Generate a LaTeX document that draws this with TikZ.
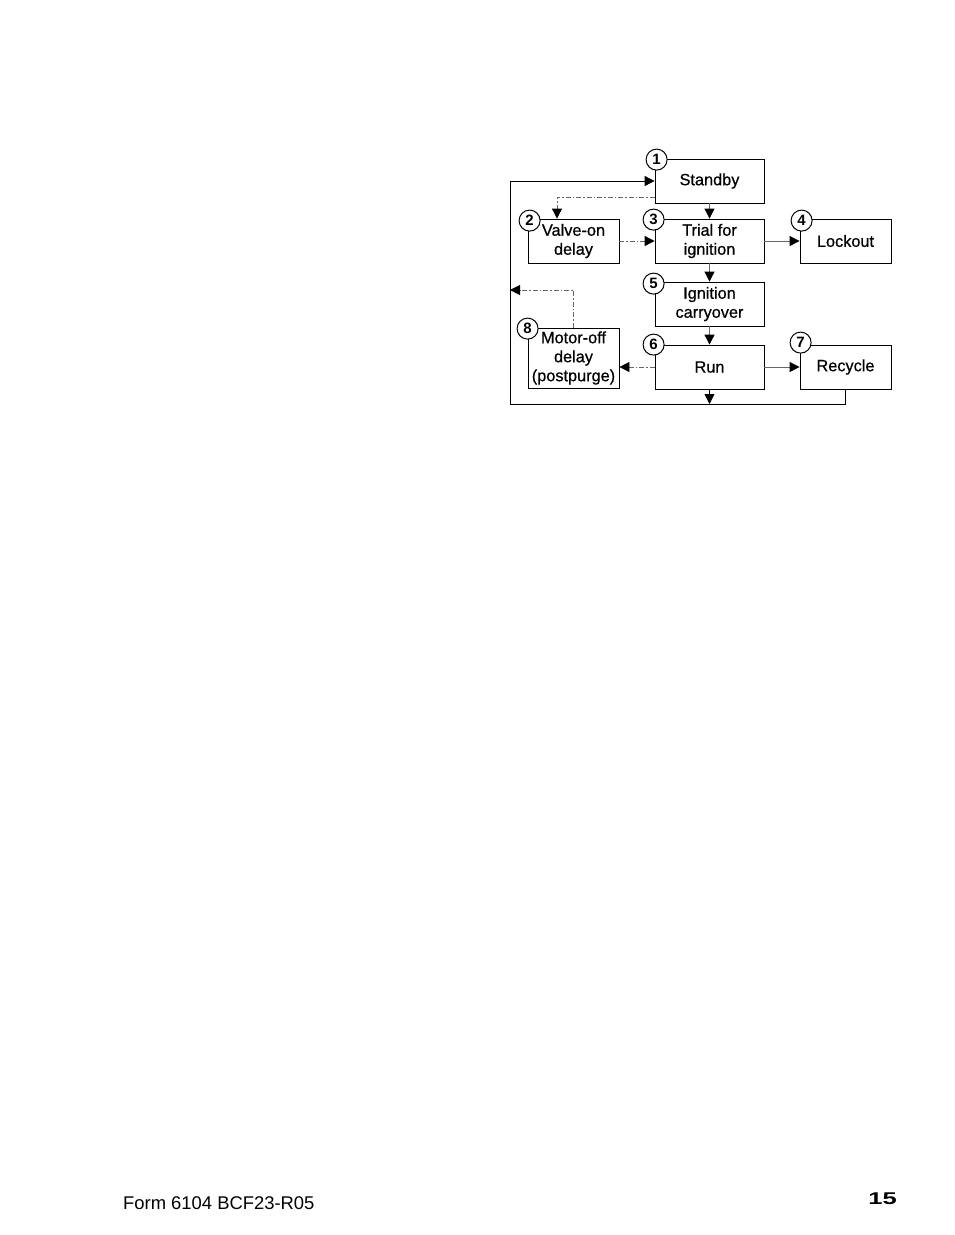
\documentclass[tikz,border=0pt]{standalone}
\usepackage{fontspec}
\setmainfont{Liberation Sans}
\newfontfamily\heavyfont{Liberation Sans}[FakeBold=0.6]
\usepackage{tikz}
\usetikzlibrary{arrows.meta,positioning,calc}
\tikzstyle{RECTANGLE_1} = [rectangle, draw, line width=0.8pt, align=center, inner sep=1pt, minimum width=109pt, minimum height=44pt, font=\heavyfont\fontsize{16.3}{19}\selectfont]
\tikzstyle{RECTANGLE_2} = [RECTANGLE_1, minimum width=91pt]
\tikzstyle{RECTANGLE_3} = [RECTANGLE_2, minimum height=60pt]
\tikzstyle{NUMBER} = [circle, draw, line width=1pt, fill=white, inner sep=0pt, minimum size=21pt, font=\fontsize{15}{15}\selectfont\bfseries]
\tikzstyle{ARROW} = [draw=black!60, line width=0.8pt, -{Triangle[length=10pt,width=10pt,color=black]}]
\tikzstyle{DASHARROW} = [ARROW, dash pattern=on 5pt off 2pt on 1.5pt off 2pt]
\tikzstyle{LOOP} = [draw, line width=0.8pt, -{Triangle[length=10pt,width=10pt]}]

\begin{document}
\begin{tikzpicture}[x=1pt, y=-1pt, node distance=60pt]
\useasboundingbox (0,0) rectangle (954,1235);
% Place nodes
\node [RECTANGLE_1] (standby) at (709.5,181) {Standby};
\node [RECTANGLE_1, below of=standby] (trial) {Trial for\\ignition};
\node [RECTANGLE_2, right of=trial, node distance=136pt] (lockout) {Lockout};
\node [RECTANGLE_2, left of=trial, node distance=136pt] (valve_on) {Valve-on\\delay};
\node [RECTANGLE_1, below of=trial, node distance=63pt] (ign_carry) {Ignition\\carryover};
\node [RECTANGLE_1, below of=ign_carry, node distance=63pt] (run) {Run};
\node [RECTANGLE_2, right of=run, node distance=136pt] (recycle) {Recycle};
\node [RECTANGLE_3, left of=run, node distance=136pt, yshift=9pt] (motor_off) {Motor-off\\delay\\(postpurge)};
% Numbers
\node [NUMBER] (num_1) at ([shift={(2pt,-1pt)}]standby.north west) {1};
\node [NUMBER] (num_2) at ([shift={(2pt,-2pt)}]valve_on.north west) {2};
\node [NUMBER] (num_3) at ([shift={(-1pt,-1pt)}]trial.north west) {3};
\node [NUMBER] (num_4) at ([shift={(2pt,-2pt)}]lockout.north west) {4};
\node [NUMBER] (num_5) at ([shift={(-1pt,-2pt)}]ign_carry.north west) {5};
\node [NUMBER] (num_6) at ([shift={(-1pt,0pt)}]run.north west) {6};
\node [NUMBER] (num_7) at ([shift={(1pt,2pt)}]recycle.north west) {7};
\node [NUMBER] (num_8) at ([shift={(0pt,-1pt)}]motor_off.north west) {8};
\coordinate (loop_bl) at (510,404);
\coordinate (loop_ret) at (510,290);
% Footer
\node [anchor=base west, inner sep=0pt, font=\fontsize{18.4}{20}\selectfont] (form) at (123,1209) {Form 6104 BCF23-R05};
\node [anchor=base east, inner sep=0pt, font=\fontsize{17}{20}\selectfont\bfseries] (page) at (897,1204) {\scalebox{1.5}[1]{15}};
% LINES and ARROWS
\path [ARROW] (standby) -- (trial);
\path [ARROW] (trial) -- (lockout);
\path [ARROW] (trial) -- (ign_carry);
\path [ARROW] (ign_carry) -- (run);
\path [ARROW] (run) -- (recycle);
\path [DASHARROW] ([yshift=6pt]standby.south west) -| ([xshift=-16.5pt]valve_on.north);
\path [DASHARROW] (valve_on) -- (trial);
\path [DASHARROW] (run.west) -- (run.west -| motor_off.east);
\path [DASHARROW] (motor_off.north) |- (loop_ret);
\path [LOOP] (recycle.south) |- (loop_bl) |- (standby.west);
\path [LOOP] (run.south) -- (run.south |- loop_bl);
\end{tikzpicture}
\end{document}
